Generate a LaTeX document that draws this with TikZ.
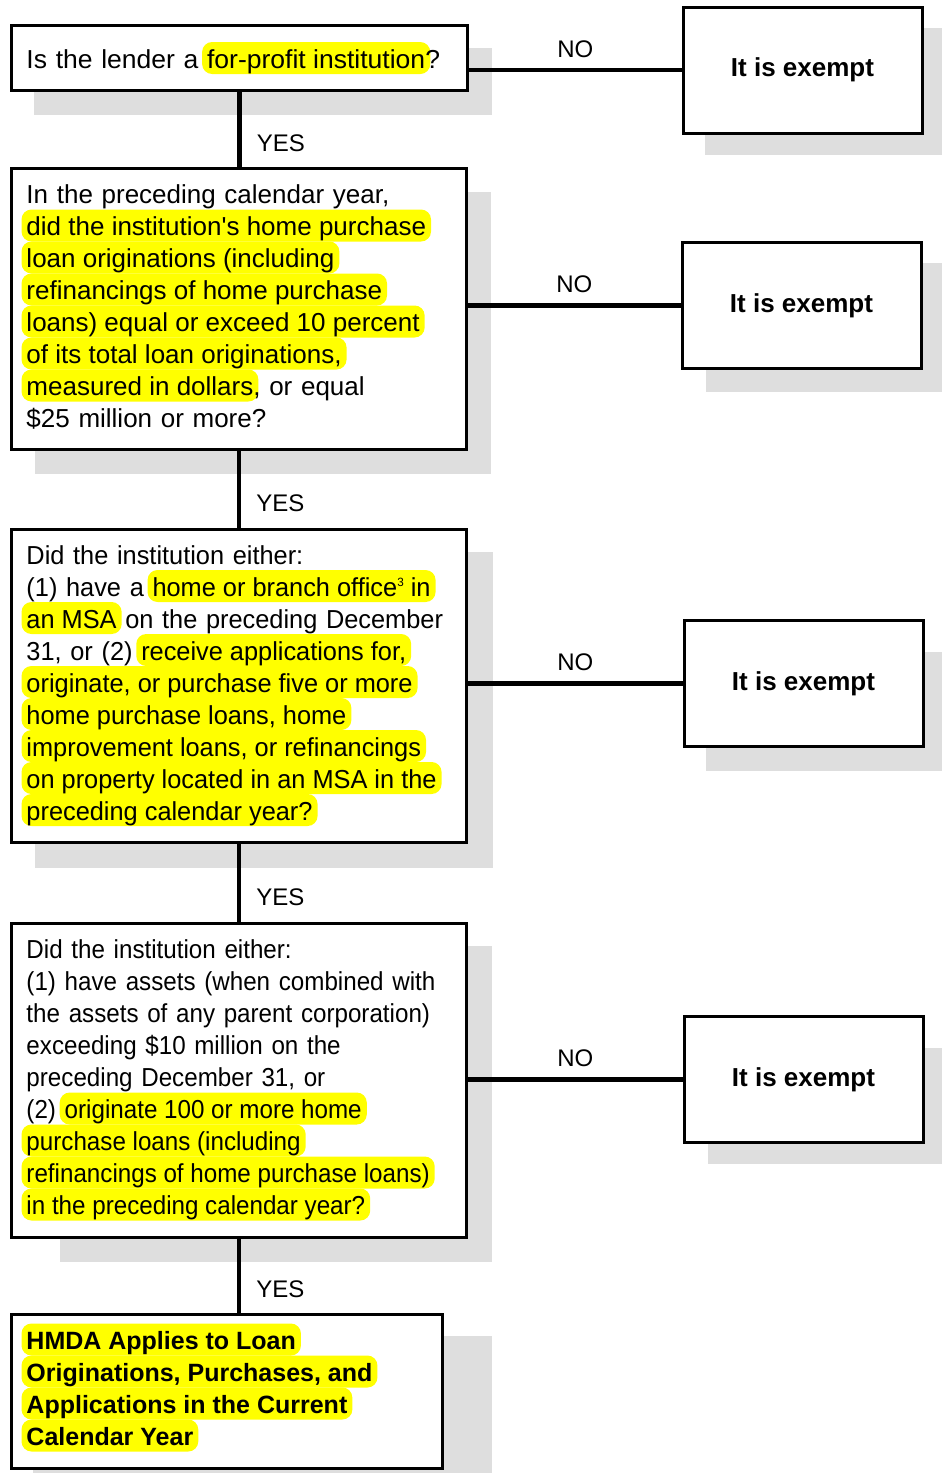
\documentclass[tikz,border=0pt]{standalone}
\usepackage{fontspec}
\setmainfont{Liberation Sans}
\newfontfamily\widefont[FakeStretch=1.02]{Liberation Sans}
\newfontfamily\narrowfont[FakeStretch=0.975]{Liberation Sans}
\newfontfamily\tightfont[FakeStretch=0.93]{Liberation Sans}
\setlength{\parindent}{0pt}

\definecolor{shadowgray}{HTML}{DEDEDE}
\definecolor{marker}{HTML}{FFFF00}

\newcommand\qfont{\fontsize{26}{32}\selectfont}
\newcommand\hmdafont{\fontsize{25}{32}\selectfont\bfseries}
\newcommand\hl[1]{\hspace*{-5pt}\tikz[baseline=(hl.base)]\node[hlbox](hl){#1};\hspace*{-5pt}}
\newcommand\topline{\rule{0pt}{26pt}}
\newcommand\lastline{\rule[-13pt]{0pt}{13pt}}
\newcommand\noteref[1]{\raisebox{10pt}{\fontsize{12}{12}\selectfont #1}}

\tikzset{
  hlbox/.style={fill=marker, rounded corners=10pt, inner xsep=5pt, inner ysep=0pt,
    minimum width=0pt, minimum height=0pt, text width={},
    text height=26pt, text depth=6pt},
  question/.style={draw, line width=3pt, fill=white, anchor=north west, outer sep=0pt,
    align=left, inner xsep=15pt, inner ysep=0pt, font=\qfont},
  exempt/.style={draw, line width=3pt, fill=white, anchor=north west, outer sep=0pt,
    minimum width=239pt, minimum height=126pt, font=\bfseries\qfont,
    text height=13pt, text depth=0pt},
  link/.style={line width=4.5pt},
  answer/.style={font=\fontsize{24}{28}\selectfont, inner sep=0pt},
  yes/.style={answer, pos=0.78, anchor=base west, xshift=15pt},
  no/.style={answer, midway, anchor=base, yshift=13pt},
  shadow/.style={fill=shadowgray}
}

\begin{document}
\begin{tikzpicture}[x=1pt, y=-1pt]
\useasboundingbox (0,0) rectangle (942,1473);

\fill[shadow] (34,48) rectangle (492,115);
\fill[shadow] (35,192) rectangle (491,474);
\fill[shadow] (35,552) rectangle (493,868);
\fill[shadow] (60,946) rectangle (492,1262);
\fill[shadow] (33,1336) rectangle (492,1473);
\fill[shadow] (705,28) rectangle (942,155);
\fill[shadow] (706,263) rectangle (942,392);
\fill[shadow] (706,652) rectangle (942,771);
\fill[shadow] (708,1048) rectangle (942,1164);

\node[question, text width=426pt, minimum height=65pt, font=\widefont\qfont] (q1) at (11.5,25.5)
  {Is the lender a \hl{for-profit institution}?};
\node[question, text width=425pt, minimum height=281pt] (q2) at (11.5,168.5)
  {\topline In the preceding calendar year,\\
   \hl{did the institution\textquotesingle s home purchase}\\
   \hl{loan originations (including}\\
   \hl{refinancings of home purchase}\\
   \hl{loans) equal or exceed 10 percent}\\
   \hl{of its total loan originations,}\\
   \hl{measured in dollars}, or equal\\
   \$25 million or more?\lastline};
\node[question, text width=425pt, minimum height=313pt, font=\narrowfont\qfont] (q3) at (11.5,529)
  {\topline Did the institution either:\\
   (1) have a \hl{home or branch office\noteref{3} in}\\
   \hl{an MSA} on the preceding December\\
   31, or (2) \hl{receive applications for,}\\
   \hl{originate, or purchase five or more}\\
   \hl{home purchase loans, home}\\
   \hl{improvement loans, or refinancings}\\
   \hl{on property located in an MSA in the}\\
   \hl{preceding calendar year?}\lastline};
\node[question, text width=425pt, minimum height=314pt, font=\tightfont\qfont] (q4) at (11.5,923)
  {\topline Did the institution either:\\
   (1) have assets (when combined with\\
   the assets of any parent corporation)\\
   exceeding \$10 million on the\\
   preceding December 31, or\\
   (2) \hl{originate 100 or more home}\\
   \hl{purchase loans (including}\\
   \hl{refinancings of home purchase loans)}\\
   \hl{in the preceding calendar year?}\lastline};
\node[question, text width=400.5pt, minimum height=154pt, font=\hmdafont] (q5) at (11.5,1314)
  {\hl{HMDA Applies to Loan}\\
   \hl{Originations, Purchases, and}\\
   \hl{Applications in the Current}\\
   \hl{Calendar Year}\lastline};

\node[exempt] (e1) at (683,7) {It is exempt};
\node[exempt] (e2) at (682,242.5) {It is exempt};
\node[exempt] (e3) at (684,620.5) {It is exempt};
\node[exempt] (e4) at (684,1016.5) {It is exempt};

\draw[link] (q1.south) -- node[yes]{YES} (q1.south |- q2.north);
\draw[link] (q2.south) -- node[yes]{YES} (q2.south |- q3.north);
\draw[link] (q3.south) -- node[yes]{YES} (q3.south |- q4.north);
\draw[link] (q4.south) -- node[yes]{YES} (q4.south |- q5.north);

\draw[link] (e1.west -| q1.east) -- node[no]{NO} (e1.west);
\draw[link] (e2.west -| q2.east) -- node[no]{NO} (e2.west);
\draw[link] (e3.west -| q3.east) -- node[no]{NO} (e3.west);
\draw[link] (e4.west -| q4.east) -- node[no]{NO} (e4.west);
\end{tikzpicture}
\end{document}
